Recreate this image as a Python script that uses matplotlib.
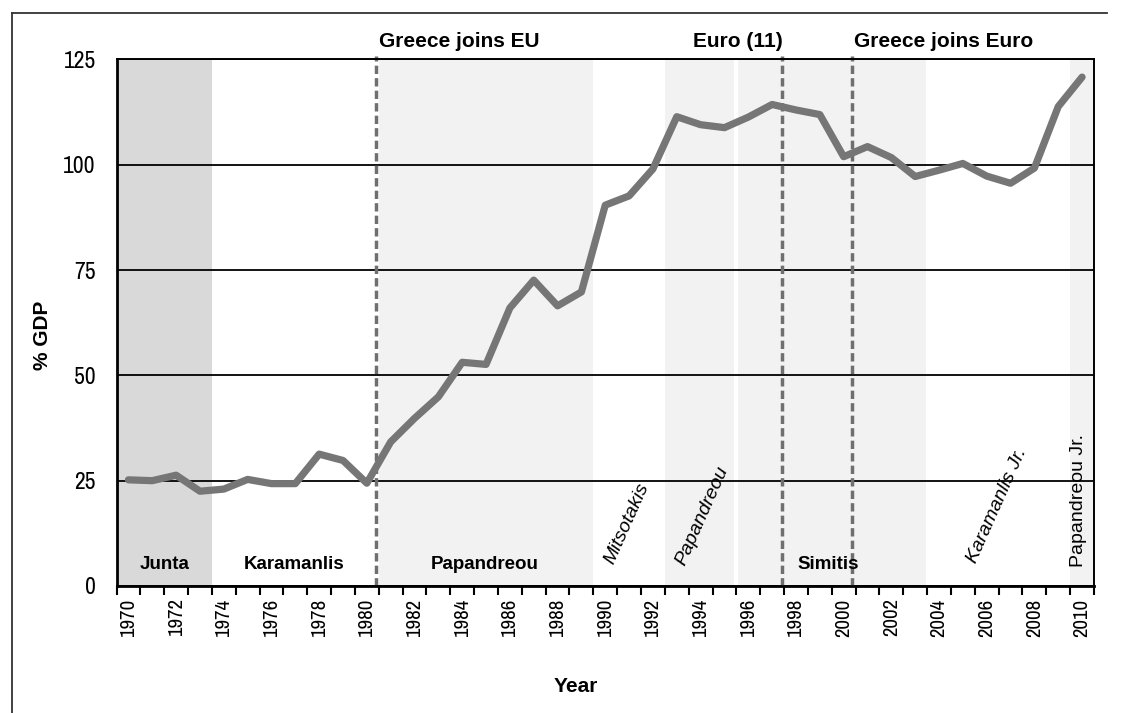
import matplotlib
matplotlib.use("Agg")
import matplotlib.pyplot as plt
from matplotlib import font_manager
from matplotlib.lines import Line2D

# Greek public debt, % of GDP
years = list(range(1970, 2011))
debt = [25.2, 25.0, 26.3, 22.5, 23.0, 25.3, 24.3, 24.3, 31.3, 29.8,
        24.4, 34.2, 39.8, 44.9, 53.1, 52.6, 66.0, 72.6, 66.5, 69.8,
        90.4, 92.6, 99.0, 111.4, 109.5, 108.8, 111.3, 114.3, 113.0, 111.9,
        101.9, 104.3, 101.7, 97.2, 98.7, 100.3, 97.3, 95.6, 99.2, 113.8,
        120.8]

# government periods: (start, end, colour)
bands = [(1969.5, 1973.5, '#d9d9d9'),
         (1980.5, 1989.5, '#f2f2f2'),
         (1992.5, 1995.42, '#f2f2f2'),
         (1995.55, 2003.45, '#f2f2f2'),
         (2009.5, 2010.5, '#f2f2f2')]

events = [1980.4, 1997.4, 2000.35]
event_labels = ['Greece joins EU', 'Euro (11)', 'Greece joins Euro']

flat_names = ['Junta', 'Karamanlis', 'Papandreou', 'Simitis']
flat_x = [1971.5, 1976.95, 1984.95, 1999.35]
tilt_names = ['Mitsotakis', 'Papandreou', 'Karamanlis Jr.', 'Papandreou Jr.']
tilt_x = [1990.9, 1994.05, 2006.45, 2009.85]
tilt_y = [14.8, 16.6, 19.0, 20.4]
tilt_rot = [66, 66, 66, 90]

names = {f.name for f in font_manager.fontManager.ttflist}
plt.rcParams['font.family'] = ['Liberation Sans', 'DejaVu Sans']
# tick labels in the original are set in a narrow face
tick_family = 'Archivo Narrow' if 'Archivo Narrow' in names else 'Liberation Sans'

fig = plt.figure(figsize=(11.39, 7.13), dpi=100)
ax = fig.add_axes([116.5 / 1139, 1 - 586 / 713, (1094 - 116.5) / 1139, (586 - 59.4) / 713])

# outer frame of the chart area
fig.add_artist(Line2D([12 / 1139, 12 / 1139], [0, 1 - 13 / 713], color='#333333', lw=1.3,
                      transform=fig.transFigure))
fig.add_artist(Line2D([12 / 1139, 1107 / 1139], [1 - 13 / 713, 1 - 13 / 713], color='#333333', lw=1.3,
                      transform=fig.transFigure))

for start, end, colour in bands:
    ax.axvspan(start, end, color=colour, lw=0, zorder=0)

ax.set_xlim(1969.5, 2010.5)
ax.set_ylim(0, 125)
ax.set_yticks([0, 25, 50, 75, 100, 125])
ax.grid(axis='y', color='black', lw=1.3, zorder=1)
ax.set_axisbelow(True)

for x in events:
    ax.axvline(x, ymax=1.006, color='#6f6f6f', lw=2.5, linestyle=(0, (2.4, 1.2)), zorder=3, clip_on=False)

ax.plot(years, debt, color='#767676', lw=5.2, solid_joinstyle='round', solid_capstyle='round', zorder=4)

for x, label in zip(events, event_labels):
    ha = 'right' if label == 'Euro (11)' else 'left'
    ax.text(x + (0.1 if ha == 'left' else 0.05), 127.9, label, ha=ha, va='baseline',
            fontsize=15, fontweight='bold', clip_on=False)

for x, name in zip(flat_x, flat_names):
    ax.text(x, 4.1, name, ha='center', va='baseline', fontsize=13.5, fontweight='bold', zorder=5)

for x, y, name, rot in zip(tilt_x, tilt_y, tilt_names, tilt_rot):
    style = 'normal' if rot == 90 else 'italic'
    ax.text(x, y, name, ha='center', va='center', rotation=rot, rotation_mode='anchor',
            fontsize=14, style=style, zorder=5)

# x axis: tick marks between years, labels every second year
ax.set_xticks(range(1970, 2011, 2))
ax.set_xticklabels([str(y) for y in range(1970, 2011, 2)], rotation=90)
ax.set_xticks([y + 0.5 for y in range(1969, 2011)], minor=True)
ax.tick_params(axis='x', which='major', length=0, pad=9)
ax.tick_params(axis='x', which='minor', length=6.5, width=1.5, color='black', direction='out')
ax.tick_params(axis='y', length=0, pad=15)
for lab in ax.get_xticklabels():
    lab.set_fontfamily(tick_family)
    lab.set_fontsize(15)
for lab in ax.get_yticklabels():
    lab.set_fontfamily(tick_family)
    lab.set_fontsize(17)

for side in ['left', 'bottom']:
    ax.spines[side].set_linewidth(2)
for side in ['top', 'right']:
    ax.spines[side].set_linewidth(1.4)
for side in ax.spines:
    ax.spines[side].set_color('black')
    ax.spines[side].set_zorder(6)

fig.text(575.5 / 1139, 1 - 687 / 713, 'Year', ha='center', va='center', fontsize=15, fontweight='bold')
fig.text(42 / 1139, 1 - 335 / 713, '% GDP', ha='center', va='center', rotation=90,
         fontsize=15, fontweight='bold')

fig.savefig('out.png', dpi=100)
